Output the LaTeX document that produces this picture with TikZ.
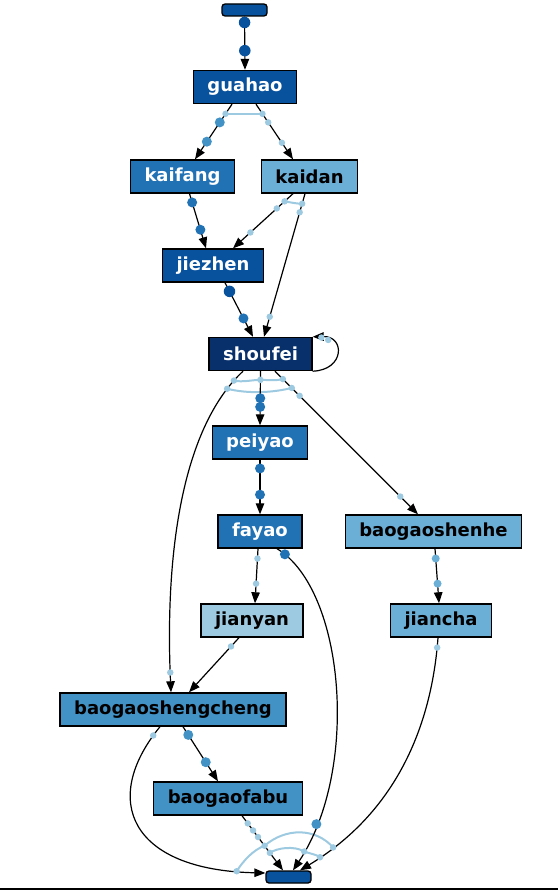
\documentclass[tikz,border=0pt]{standalone}
\usepackage{fontspec}
\setmainfont{DejaVu Sans}
\usetikzlibrary{arrows.meta}
\definecolor{c1}{HTML}{08306B}
\definecolor{c2}{HTML}{08519C}
\definecolor{c3}{HTML}{2171B5}
\definecolor{c4}{HTML}{4292C6}
\definecolor{c5}{HTML}{6BAED6}
\definecolor{c6}{HTML}{9ECAE1}
\pgfdeclarelayer{bind}
\pgfsetlayers{bind,main}
\tikzset{
  act/.style={draw=black, line width=1.4pt, fill=#1, minimum height=33pt,
    inner xsep=14pt, inner ysep=0pt, font=\bfseries\fontsize{18}{20}\selectfont},
  wact/.style={act=#1, text=white},
  term/.style={draw=black, line width=1.3pt, fill=c2, rounded corners=3pt,
    minimum width=45pt, minimum height=12pt, inner sep=0pt},
  flow/.style={draw, line width=1.2pt, -{Triangle[length=11pt,width=8.5pt]}},
  dot/.style={circle, inner sep=0pt, draw=none},
  dA/.style={dot, fill=c2, minimum size=11.5pt},
  dB/.style={dot, fill=c3, minimum size=10pt},
  dC/.style={dot, fill=c4, minimum size=10pt},
  dD/.style={dot, fill=c5, minimum size=8pt},
  dL/.style={dot, fill=c6, minimum size=6.5pt},
  bindarc/.style={draw=c6, line width=2pt}
}
\begin{document}
\begin{tikzpicture}[x=1pt, y=-1pt]
\useasboundingbox (0,0) rectangle (558,891);

% activities
\node[term] (start) at (244.5,10) {};
\node[wact=c2] (guahao) at (245,87) {guahao};
\node[wact=c3] (kaifang) at (182.5,176.5) {kaifang};
\node[act=c5] (kaidan) at (309.5,176.5) {kaidan};
\node[wact=c2] (jiezhen) at (213,265.5) {jiezhen};
\node[wact=c1] (shoufei) at (260.5,354) {shoufei};
\node[wact=c3] (peiyao) at (260,442.5) {peiyao};
\node[wact=c3] (fayao) at (260,531.5) {fayao};
\node[act=c5] (bsh) at (433.5,531.5) {baogaoshenhe};
\node[act=c6] (jianyan) at (252,620.5) {jianyan};
\node[act=c5] (jiancha) at (441,620.5) {jiancha};
\node[act=c4] (bsc) at (173,709.5) {baogaoshengcheng};
\node[act=c4] (fabu) at (228,798.5) {baogaofabu};
\node[term] (end) at (288.5,877) {};

% arcs
\draw[flow] (start.south) -- (guahao.north) node[dA,pos=.11]{} node[dA,pos=.64]{};
\draw[flow] ([xshift=-13pt]guahao.south) -- ([xshift=12.5pt]kaifang.north)
  node[dL,pos=.175](g1){} node[dC,pos=.33]{} node[dC,pos=.68]{};
\draw[flow] ([xshift=11pt]guahao.south) -- ([xshift=-16.5pt]kaidan.north)
  node[dL,pos=.175](g2){} node[dL,pos=.33]{} node[dL,pos=.70]{};
\draw[flow] ([xshift=7pt]kaifang.south) -- ([xshift=-7pt]jiezhen.north)
  node[dB,pos=.16]{} node[dB,pos=.66]{};
\draw[flow] ([xshift=-16.5pt]kaidan.south) -- ([xshift=20pt]jiezhen.north)
  node[dL,pos=.14](k1){} node[dL,pos=.27]{} node[dL,pos=.71]{};
\draw[flow] ([xshift=-4.5pt]kaidan.south) -- ([xshift=3.5pt]shoufei.north)
  node[dL,pos=.07](k2){} node[dL,pos=.13]{} node[dL,pos=.86]{};
\draw[flow] ([xshift=12pt]jiezhen.south) -- ([xshift=-7.5pt]shoufei.north)
  node[dA,pos=.16]{} node[dB,pos=.66]{};
\draw[flow] (shoufei.south east) .. controls (345,370) and (345,336) .. (shoufei.north east)
  node[dL,pos=.8]{} node[dL,pos=.9]{};
\draw[flow] (shoufei.south) -- (peiyao.north)
  node[dL,pos=.16](s2){} node[dB,pos=.5]{} node[dB,pos=.66]{};
\draw[flow] ([xshift=-17.5pt]shoufei.south) .. controls (180,430) and (165,560) .. ([xshift=-2pt]bsc.north)
  node[dL,pos=.05](s1){} node[dL,pos=.09](s4){} node[dL,pos=.95]{};
\draw[flow] ([xshift=14.5pt]shoufei.south) -- ([xshift=-15.5pt]bsh.north)
  node[dL,pos=.055](s3){} node[dL,pos=.117](s5){} node[dL,pos=.172]{} node[dL,pos=.876]{};
\draw[flow] (peiyao.south) -- (fayao.north) node[dB,pos=.16]{} node[dB,pos=.64]{};
\draw[flow] ([xshift=-2pt]fayao.south) -- ([xshift=3pt]jianyan.north)
  node[dL,pos=.18]{} node[dL,pos=.64]{};
\draw[flow] ([xshift=17pt]fayao.south) .. controls (345,590) and (360,770) .. ([xshift=4.5pt]end.north)
  node[dB,pos=.04]{} node[dC,pos=.86]{} node[dL,pos=.94](e4){};
\draw[flow] ([xshift=1.5pt]bsh.south) -- ([xshift=-2pt]jiancha.north)
  node[dD,pos=.18]{} node[dD,pos=.64]{};
\draw[flow] ([xshift=-3pt]jiancha.south) .. controls (432,720) and (400,810) .. ([xshift=11.5pt]end.north)
  node[dL,pos=.04]{} node[dL,pos=.88](e3){} node[dL,pos=.93](e6){};
\draw[flow] ([xshift=-13pt]jianyan.south) -- ([xshift=16pt]bsc.north) node[dL,pos=.16]{};
\draw[flow] ([xshift=10pt]bsc.south) -- ([xshift=-10pt]fabu.north)
  node[dC,pos=.15]{} node[dC,pos=.65]{};
\draw[flow] ([xshift=-13pt]bsc.south) .. controls (100,800) and (130,870) .. ([yshift=4pt]end.west)
  node[dL,pos=.04]{} node[dL,pos=.925](e1){};
\draw[flow] ([xshift=14pt]fabu.south) -- ([xshift=-5.5pt]end.north)
  node[dL,pos=.14]{} node[dL,pos=.27]{} node[dL,pos=.39]{} node[dL,pos=.55](e2){} node[dL,pos=.68](e5){};

% bindings
\begin{pgfonlayer}{bind}
\draw[bindarc] (g1.center) .. controls +(10,0) and +(-10,0) .. (g2.center);
\draw[bindarc] (k1.center) .. controls +(6,1) and +(-6,0) .. (k2.center);
\draw[bindarc] (s1.center) .. controls +(8,2) and +(-8,0) .. (s2.center)
  .. controls +(8,0) and +(-8,2) .. (s3.center);
\draw[bindarc] (s4.center) .. controls +(20,5) and +(-20,5) .. (s5.center);
\draw[bindarc] (e1.center) .. controls +(7,-11) and +(-11,4) .. (e2.center)
  .. controls +(21,-18) and +(-18,-20) .. (e3.center);
\draw[bindarc] (e5.center) .. controls +(7,-5) and +(-10,-6) .. (e4.center)
  .. controls +(5,2) and +(-4,-3) .. (e6.center);
\end{pgfonlayer}

\draw[line width=1.5pt] (0,889) -- (558,889);
\end{tikzpicture}
\end{document}
